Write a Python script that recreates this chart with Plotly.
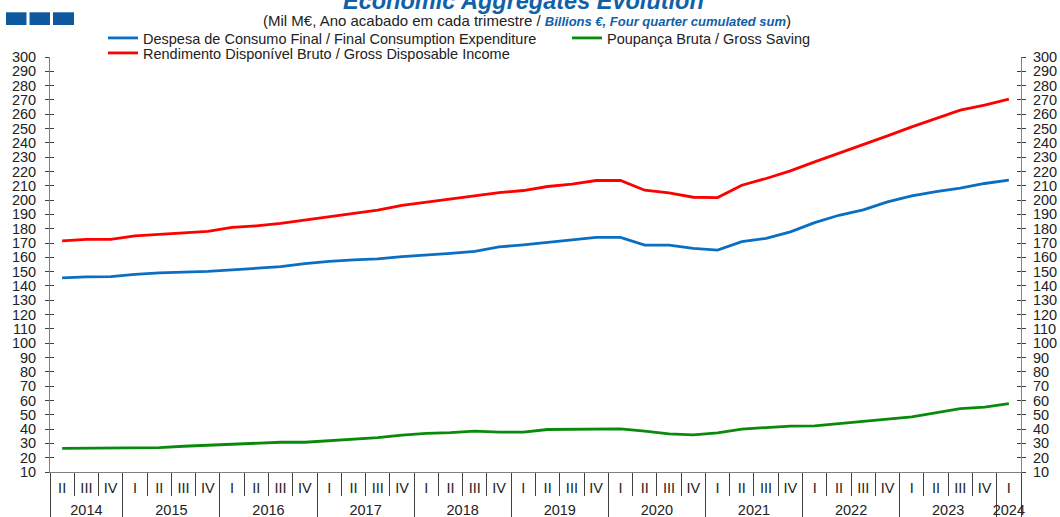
import plotly.graph_objects as go

# ---------------- data ----------------
year_labels = ["2014", "2015", "2016", "2017", "2018", "2019", "2020", "2021", "2022", "2023", "2024"]
quarter_labels = ["I", "II", "III", "IV"]

# periods: 2014 II ... 2024 I
period_years = []
period_quarters = []
for y in year_labels:
    for q in quarter_labels:
        if (y == "2014" and q == "I") or (y == "2024" and q != "I"):
            continue
        period_years.append(y)
        period_quarters.append(q)
periods = [f"{y} {q}" for y, q in zip(period_years, period_quarters)]

consumption = [145.7, 146.4, 146.5, 148.1, 149.1, 149.6, 150.2, 151.2, 152.3, 153.5,
               155.6, 157.2, 158.2, 158.9, 160.5, 161.5, 162.8, 164.2, 167.3, 168.7,
               170.3, 172.1, 174.0, 174.0, 168.5, 168.5, 166.3, 165.1, 171.0, 173.3,
               177.8, 184.3, 189.4, 193.2, 198.7, 202.9, 206.0, 208.3, 211.6, 213.9]

income = [171.5, 172.6, 172.6, 175.0, 176.1, 177.3, 178.2, 181.0, 182.0, 183.8,
          186.1, 188.5, 190.6, 193.0, 196.4, 198.7, 200.6, 202.9, 205.3, 206.7,
          209.5, 211.1, 213.7, 213.7, 206.9, 205.0, 202.0, 201.8, 210.4, 215.1,
          220.4, 226.7, 232.8, 238.4, 244.9, 251.2, 257.1, 262.9, 266.4, 270.5]

saving = [26.5, 26.5, 26.5, 26.8, 27.0, 28.0, 28.7, 29.7, 30.3, 30.8,
          30.8, 31.8, 32.5, 34.0, 35.8, 37.0, 37.5, 38.5, 37.8, 37.8,
          39.7, 39.8, 40.2, 40.2, 38.5, 36.7, 36.0, 37.4, 40.0, 41.3,
          42.1, 42.3, 44.0, 45.8, 47.0, 48.5, 51.3, 54.3, 55.3, 57.8]

series_names = [
    "Despesa de Consumo Final / Final Consumption Expenditure",
    "Poupança Bruta / Gross Saving",
    "Rendimento Disponível Bruto / Gross Disposable Income",
]
y_ticks = list(range(10, 301, 10))

# ---------------- layout geometry ----------------
W, H = 1060, 517
ML, MR, MT, MB = 50, 39, 57, 45
PW, PH = W - ML - MR, H - MT - MB


def px_x(px):
    return (px - ML) / PW


def px_y(py):
    return (H - MB - py) / PH


FONT = "Liberation Sans, Arial, sans-serif"
AX_COLOR = "#808080"
TICK_COLOR = "#404040"
TXT = "#222222"

fig = go.Figure()
fig.add_trace(go.Scatter(x=periods, y=consumption, mode="lines", name=series_names[0],
                         line=dict(color="#0A6FC2", width=2.8), legend="legend"))
fig.add_trace(go.Scatter(x=periods, y=saving, mode="lines", name=series_names[1],
                         line=dict(color="#0A8A0A", width=2.8), legend="legend"))
fig.add_trace(go.Scatter(x=periods, y=income, mode="lines", name=series_names[2],
                         line=dict(color="#FF0000", width=2.8), legend="legend2"))

# empty helper traces so that the overlay axes (separators, year labels, right axis) are drawn
for xa, ya in [("x2", "y"), ("x3", "y"), ("x4", "y"), ("x", "y2"), ("x", "y3"), ("x", "y4")]:
    fig.add_trace(go.Scatter(x=[], y=[], xaxis=xa, yaxis=ya, mode="lines",
                             showlegend=False, hoverinfo="skip"))

n = len(periods)
quarter_bounds = [i - 0.5 for i in range(n + 1)]
year_bounds = [-0.5] + [i + 0.5 for i in range(n - 1) if period_years[i] != period_years[i + 1]] + [n - 0.5]
year_centers = []
for y in year_labels:
    idx = [i for i, py in enumerate(period_years) if py == y]
    year_centers.append(sum(idx) / len(idx))

xr = [-0.5, n - 0.5]
fig.update_layout(
    width=W, height=H,
    margin=dict(l=ML, r=MR, t=MT, b=MB, autoexpand=False),
    paper_bgcolor="white", plot_bgcolor="white",
    font=dict(family=FONT, size=14, color=TXT),
    # quarter labels
    xaxis=dict(type="category", categoryorder="array", categoryarray=periods,
               range=xr, tickmode="array", tickvals=periods, ticktext=period_quarters,
               showgrid=False, showline=True, linecolor=AX_COLOR, linewidth=1, ticks="",
               ticklabelstandoff=3, tickfont=dict(size=14.5, color=TXT), zeroline=False),
    # quarter separators
    xaxis2=dict(type="linear", overlaying="x", anchor="y", side="bottom", range=xr,
                tickmode="array", tickvals=quarter_bounds, ticks="outside", ticklen=23,
                tickcolor=TICK_COLOR, tickwidth=1, showticklabels=False,
                showgrid=False, showline=False, zeroline=False),
    # year separators
    xaxis3=dict(type="linear", overlaying="x", anchor="y", side="bottom", range=xr,
                tickmode="array", tickvals=year_bounds, ticks="outside", ticklen=46,
                tickcolor=TICK_COLOR, tickwidth=1, showticklabels=False,
                showgrid=False, showline=False, zeroline=False),
    # year labels
    xaxis4=dict(type="linear", overlaying="x", anchor="y", side="bottom", range=xr,
                tickmode="array", tickvals=year_centers, ticktext=year_labels, ticks="",
                ticklabelstandoff=27, tickfont=dict(size=14.5, color=TXT),
                showgrid=False, showline=False, zeroline=False),
    yaxis=dict(range=[10, 300], tickmode="array", tickvals=y_ticks, ticks="outside",
               ticklen=4, tickcolor=TICK_COLOR, showline=True, linecolor=AX_COLOR,
               showgrid=False, zeroline=False, tickfont=dict(size=14.5, color=TXT),
               ticklabelstandoff=6),
    yaxis3=dict(overlaying="y", side="left", range=[10, 300], tickmode="array",
                tickvals=y_ticks, ticks="inside", ticklen=4, tickcolor=TICK_COLOR,
                showticklabels=False, showline=False, showgrid=False, zeroline=False),
    yaxis2=dict(overlaying="y", side="right", range=[10, 300], tickmode="array",
                tickvals=y_ticks, ticks="outside", ticklen=4, tickcolor=TICK_COLOR,
                showline=True, linecolor=AX_COLOR, showgrid=False, zeroline=False,
                tickfont=dict(size=14.5, color=TXT), ticklabelstandoff=4),
    yaxis4=dict(overlaying="y", side="right", range=[10, 300], tickmode="array",
                tickvals=y_ticks, ticks="inside", ticklen=4, tickcolor=TICK_COLOR,
                showticklabels=False, showline=False, showgrid=False, zeroline=False),
    legend=dict(orientation="h", x=px_x(103), xanchor="left", y=px_y(38), yanchor="middle",
                entrywidth=419, entrywidthmode="pixels", font=dict(size=14.5, color=TXT),
                bgcolor="rgba(0,0,0,0)", borderwidth=0),
    legend2=dict(orientation="h", x=px_x(103), xanchor="left", y=px_y(53), yanchor="middle",
                 font=dict(size=14.5, color=TXT), bgcolor="rgba(0,0,0,0)", borderwidth=0),
    showlegend=True,
)

# title and subtitle
fig.add_annotation(text="<b><i>Economic Aggregates Evolution</i></b>",
                   xref="paper", yref="paper", x=px_x(523), y=px_y(1),
                   xanchor="center", yanchor="middle", showarrow=False,
                   font=dict(family=FONT, size=23.5, color="#1060AA"))
fig.add_annotation(text="(Mil M€, Ano acabado em cada trimestre / "
                        "<span style='font-size:13px;color:#1060AA'><b><i>Billions €, Four quarter cumulated sum</i></b></span>)",
                   xref="paper", yref="paper", x=px_x(527), y=px_y(21),
                   xanchor="center", yanchor="middle", showarrow=False,
                   font=dict(family=FONT, size=15, color=TXT))

# logo: three blue squares
for x0, x1 in [(6, 26.5), (29.5, 50), (53, 74)]:
    fig.add_shape(type="rect", xref="paper", yref="paper",
                  x0=px_x(x0), x1=px_x(x1), y0=px_y(25), y1=px_y(12.3),
                  fillcolor="#0F5A9E", line=dict(width=0), layer="above")

fig.write_html("out.html", config={"displayModeBar": False},
               post_script="document.body.style.margin='0';")
